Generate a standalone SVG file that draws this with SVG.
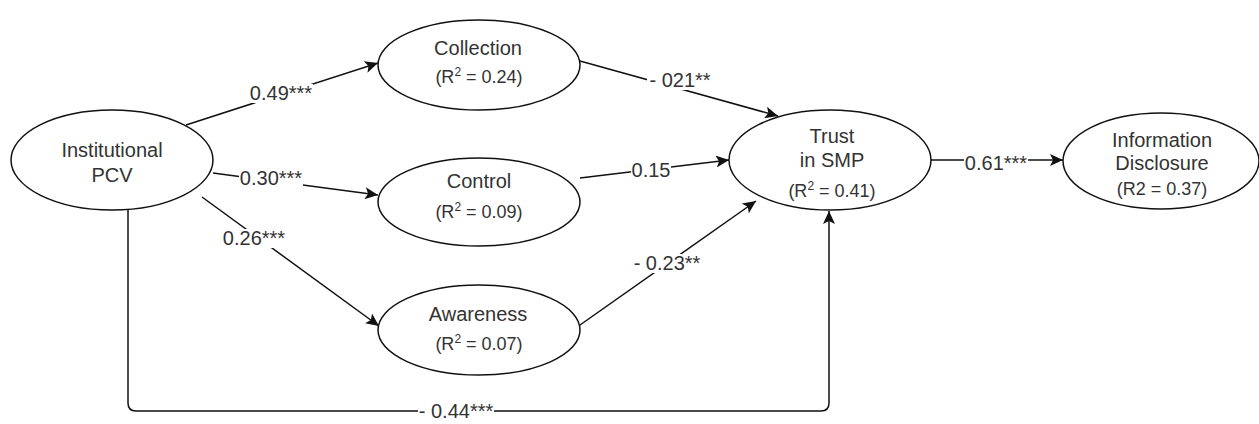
<svg xmlns="http://www.w3.org/2000/svg" width="1259" height="424" viewBox="0 0 1259 424">
<style>
.node ellipse{fill:#fff;stroke:#111;stroke-width:1.5}
text{font-family:"Liberation Sans",Arial,sans-serif;fill:#333;text-anchor:middle}
.t{font-size:20px}
.r{font-size:18px}
.edge{fill:none;stroke:#111;stroke-width:1.5}
.lbl rect{fill:#fff}
.lbl text{font-size:20px}
</style>
<defs>
<marker id="arr" markerUnits="userSpaceOnUse" markerWidth="14" markerHeight="12" viewBox="0 0 14 12" refX="13" refY="6" orient="auto">
<path d="M0,0 L13,6 L0,12 L3,6 z" fill="#111"/>
</marker>
</defs>
<g id="connectors">
<line class="edge" x1="186" y1="125" x2="378" y2="63" marker-end="url(#arr)"/>
<line class="edge" x1="213" y1="173" x2="378" y2="195" marker-end="url(#arr)"/>
<line class="edge" x1="202" y1="197" x2="379" y2="326" marker-end="url(#arr)"/>
<line class="edge" x1="580" y1="61" x2="778" y2="116" marker-end="url(#arr)"/>
<line class="edge" x1="580" y1="178" x2="729" y2="160" marker-end="url(#arr)"/>
<line class="edge" x1="580" y1="325" x2="756" y2="201" marker-end="url(#arr)"/>
<path class="edge" d="M128,210 V403 Q128,411 136,411 H821 Q829,411 829,403 V211" marker-end="url(#arr)"/>
<line class="edge" x1="931" y1="160" x2="1063" y2="160" marker-end="url(#arr)"/>
<g class="lbl">
<rect x="249" y="84" width="64" height="19"/><text x="281" y="100">0.49***</text>
<rect x="239" y="169" width="64" height="19"/><text x="271" y="185">0.30***</text>
<rect x="222" y="229" width="64" height="19"/><text x="254" y="245">0.26***</text>
<rect x="647" y="71" width="66" height="19"/><text x="680" y="87">- 021**</text>
<rect x="631" y="161" width="40" height="19"/><text x="651" y="177">0.15</text>
<rect x="633" y="254" width="68" height="19"/><text x="667" y="270">- 0.23**</text>
<rect x="418" y="402" width="76" height="20"/><text x="456" y="418">- 0.44***</text>
<rect x="964" y="154" width="64" height="19"/><text x="996" y="170">0.61***</text>
</g>
</g>
<g id="institutional" class="node">
<ellipse cx="112" cy="160" rx="101" ry="50"/>
<text class="t" x="112" y="157">Institutional</text>
<text class="t" x="112" y="182">PCV</text>
</g>
<g id="collection" class="node">
<ellipse cx="479" cy="65" rx="101" ry="45"/>
<text class="t" x="478" y="55">Collection</text>
<text class="r" x="479" y="83">(R<tspan dy="-7" font-size="12">2</tspan><tspan dy="7"> = 0.24)</tspan></text>
</g>
<g id="control" class="node">
<ellipse cx="479" cy="202" rx="101" ry="44"/>
<text class="t" x="479" y="188">Control</text>
<text class="r" x="479" y="218">(R<tspan dy="-7" font-size="12">2</tspan><tspan dy="7"> = 0.09)</tspan></text>
</g>
<g id="awareness" class="node">
<ellipse cx="479" cy="330" rx="101" ry="45"/>
<text class="t" x="478" y="321">Awareness</text>
<text class="r" x="479" y="350">(R<tspan dy="-7" font-size="12">2</tspan><tspan dy="7"> = 0.07)</tspan></text>
</g>
<g id="trust" class="node">
<ellipse cx="830" cy="160" rx="101" ry="50"/>
<text class="t" x="832" y="143">Trust</text>
<text class="t" x="832" y="167">in SMP</text>
<text class="r" x="832" y="197">(R<tspan dy="-7" font-size="12">2</tspan><tspan dy="7"> = 0.41)</tspan></text>
</g>
<g id="disclosure" class="node">
<ellipse cx="1161" cy="161" rx="98" ry="48"/>
<text class="t" x="1162" y="147">Information</text>
<text class="t" x="1162" y="170">Disclosure</text>
<text class="r" x="1162" y="195">(R2 = 0.37)</text>
</g>
</svg>
